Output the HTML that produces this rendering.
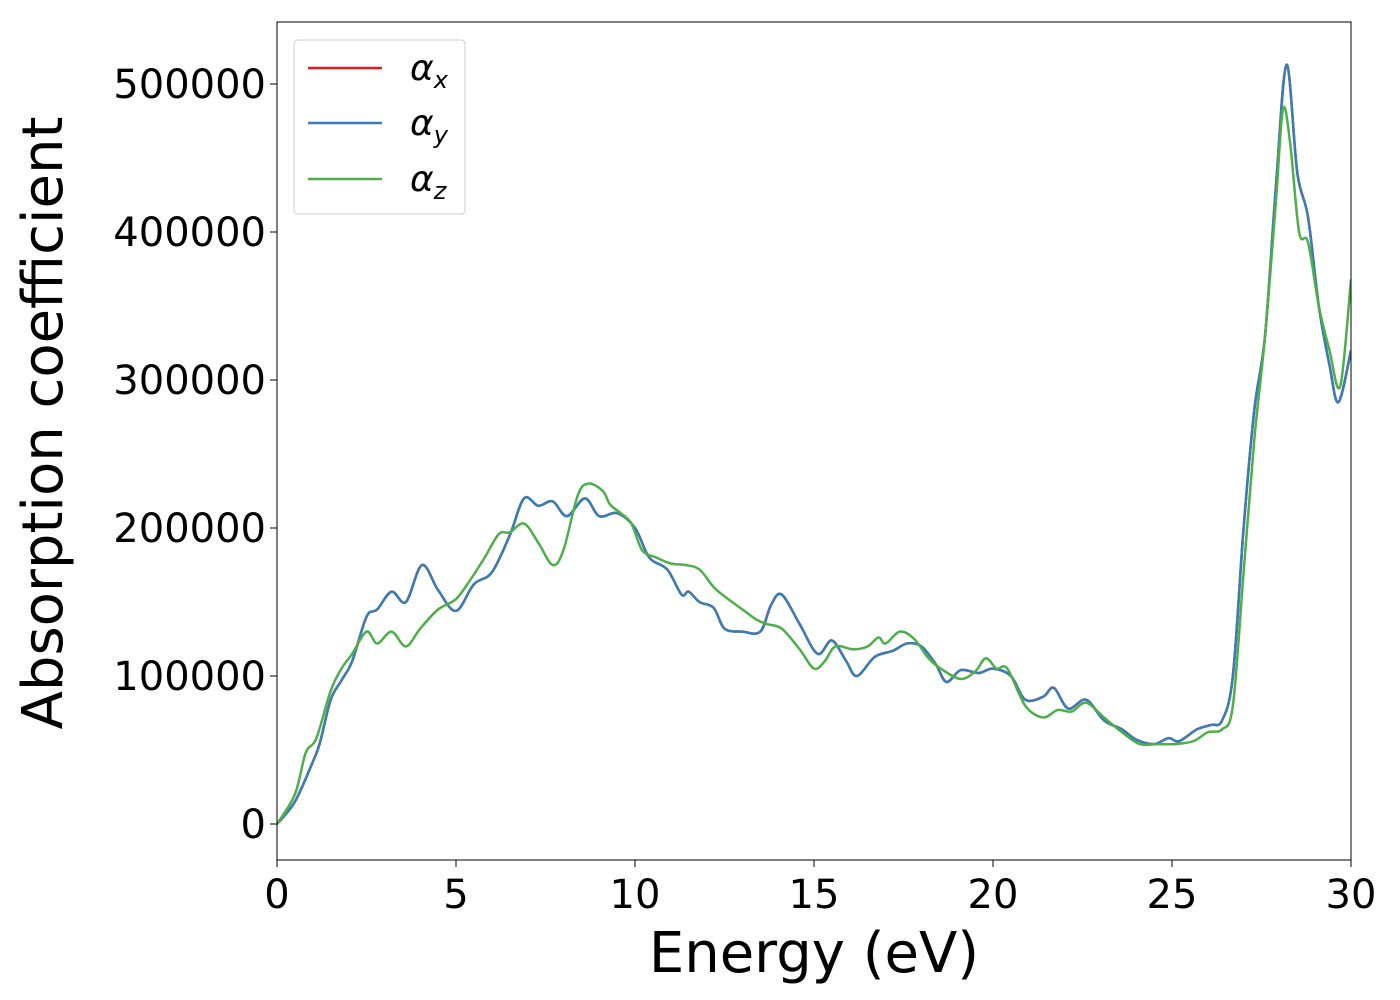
<!DOCTYPE html>
<html><head><meta charset="utf-8"><style>
body{margin:0;background:#fff;}
svg{display:block;font-family:"DejaVu Sans","Liberation Sans",sans-serif;}
</style></head><body>
<svg id="chart" width="1400" height="1000" viewBox="0 0 1400 1000">
<g id="plot"></g>
</svg>
<script>
const xTicks=[0,5,10,15,20,25,30];
const yTicks=[0,100000,200000,300000,400000,500000];
const xyX=[0,0.5,1.0,1.2,1.5,1.8,2.1,2.5,2.8,3.2,3.6,4.05,4.5,5.0,5.5,6.0,6.5,6.9,7.3,7.7,8.1,8.6,9.0,9.5,10.0,10.4,10.9,11.3,11.5,11.8,12.2,12.5,13.0,13.5,13.8,14.1,14.6,15.1,15.5,15.9,16.2,16.7,17.2,17.6,18.0,18.4,18.7,19.1,19.6,20.0,20.5,20.9,21.4,21.7,22.1,22.6,23.1,23.6,24.0,24.5,24.9,25.2,25.7,26.1,26.4,26.7,27.0,27.3,27.6,27.9,28.2,28.5,28.8,29.1,29.4,29.65,30];
const alphaXY=[0,15000,42000,55000,84000,97000,110000,140000,145000,157000,150000,175000,158000,144000,162000,170000,195000,220000,215000,218000,208000,220000,208000,210000,200000,180000,172000,155000,157000,150000,146000,132000,130000,130000,148000,155000,135000,115000,124000,110000,100000,113000,117000,122000,120000,108000,96000,104000,102000,105000,100000,84000,86000,92000,78000,84000,70000,64000,57000,54000,58000,56000,64000,67000,70000,100000,200000,280000,330000,430000,513000,440000,410000,350000,310000,285000,320000];
const zX=[0,0.5,0.8,1.1,1.5,1.8,2.1,2.5,2.8,3.2,3.6,4.0,4.5,5.0,5.4,5.8,6.2,6.5,6.9,7.3,7.7,8.0,8.4,8.7,9.1,9.3,9.6,9.9,10.2,10.6,11.0,11.4,11.8,12.2,12.6,13.0,13.4,13.7,14.1,14.6,15.0,15.3,15.6,16.1,16.5,16.8,17.0,17.4,17.8,18.2,18.6,19.1,19.5,19.8,20.1,20.4,20.9,21.4,21.8,22.2,22.6,23.1,23.6,24.1,24.6,25.1,25.6,26.0,26.4,26.7,27.0,27.3,27.6,27.9,28.1,28.3,28.55,28.8,29.1,29.4,29.7,30];
const alphaZ=[0,20000,48000,58000,90000,105000,115000,130000,122000,130000,120000,132000,145000,152000,165000,180000,196000,197000,203000,190000,175000,185000,222000,230000,225000,216000,210000,203000,185000,180000,176000,175000,172000,160000,152000,145000,138000,135000,132000,118000,105000,110000,120000,118000,120000,126000,122000,130000,125000,112000,104000,98000,103000,112000,105000,105000,80000,72000,77000,76000,82000,72000,62000,54000,54000,54000,56000,62000,64000,80000,170000,260000,330000,420000,483000,460000,400000,393000,350000,320000,296000,368000];

const L=277,R=1351,T=22,B=860;
const sx=v=>L+(v-0)/30*(R-L);
const sy=v=>824-v*0.00148;
const NS="http://www.w3.org/2000/svg";
const svg=document.getElementById('chart');
function mk(t,a,p){const e=document.createElementNS(NS,t);for(const k in a)e.setAttribute(k,a[k]);(p||svg).appendChild(e);return e;}
function path(xs,ys){const P=xs.map((x,i)=>[sx(x),sy(ys[i])]);let d=`M${P[0][0]},${P[0][1]}`;
for(let i=0;i<P.length-1;i++){const p0=P[Math.max(0,i-1)],p1=P[i],p2=P[i+1],p3=P[Math.min(P.length-1,i+2)];
d+=` C${p1[0]+(p2[0]-p0[0])/6},${p1[1]+(p2[1]-p0[1])/6} ${p2[0]-(p3[0]-p1[0])/6},${p2[1]-(p3[1]-p1[1])/6} ${p2[0]},${p2[1]}`;}return d;}
const plot=document.getElementById('plot');
const clip=mk('clipPath',{id:'cp'});mk('rect',{x:L,y:T,width:R-L,height:B-T},clip);
const g=mk('g',{'clip-path':'url(#cp)'},plot);
const lr=mk('path',{d:path(xyX,alphaXY),fill:'none',stroke:'#e41a1c','stroke-width':2.5},g);


const lb=mk('path',{d:path(xyX,alphaXY),fill:'none',stroke:'#377eb8','stroke-width':2.5},g);


const lg=mk('path',{d:path(zX,alphaZ),fill:'none',stroke:'#4daf4a','stroke-width':2.5},g);


const fr=mk('rect',{x:L,y:T,width:R-L,height:B-T,fill:'none',stroke:'#000','stroke-width':1});


xTicks.forEach(v=>{const x=sx(v);mk('line',{x1:x,x2:x,y1:B,y2:B+7,stroke:'#000','stroke-width':1});
const t=mk('text',{x:x,y:B+48,'font-size':40,'text-anchor':'middle'});t.textContent=v;

});
yTicks.forEach(v=>{const y=sy(v);mk('line',{x1:L-7,x2:L,y1:y,y2:y,stroke:'#000','stroke-width':1});
const t=mk('text',{x:L-11,y:y+14,'font-size':40,'text-anchor':'end'});t.textContent=v;

});
const xt=mk('text',{x:(L+R)/2,y:972,'font-size':56,'text-anchor':'middle'});xt.textContent='Energy (eV)';


const yt=mk('text',{x:0,y:0,'font-size':56,'text-anchor':'middle',transform:`translate(62,${(T+B)/2-18}) rotate(-90)`});yt.textContent='Absorption coefficient';


const leg=mk('g',{});


mk('rect',{x:294,y:40,width:171,height:174,rx:4,fill:'#fff',stroke:'#ccc','stroke-width':1},leg);
[['#e41a1c','x',68],['#377eb8','y',123],['#4daf4a','z',179]].forEach(([c,s,y])=>{
mk('line',{x1:308,x2:382,y1:y,y2:y,stroke:c,'stroke-width':2.5},leg);
const t=mk('text',{x:410,y:y+12,'font-size':36,'font-style':'italic'},leg);
t.innerHTML=`α<tspan font-size="24" dy="8">${s}</tspan>`;

});
</script>
</body></html>
